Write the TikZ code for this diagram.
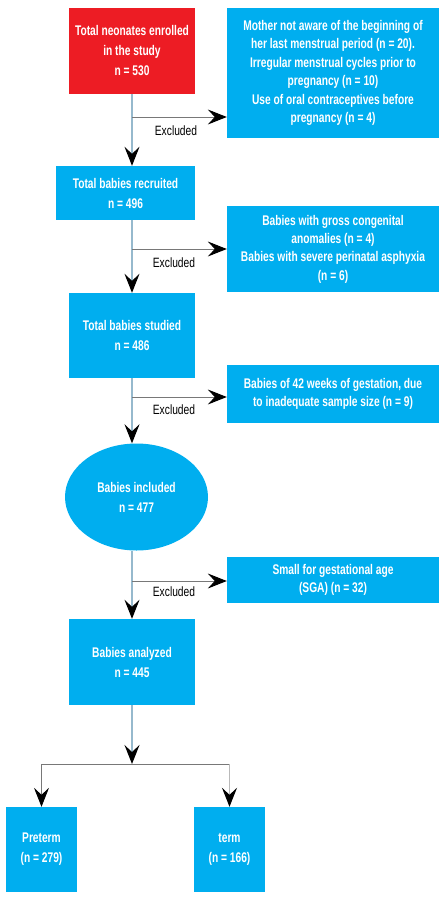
\documentclass[tikz,border=0pt]{standalone}
\usepackage{fontspec}
\setmainfont{Liberation Sans}[FakeStretch=0.76]
\newfontfamily\boxfont{Liberation Sans}[FakeStretch=0.73, UprightFont=* Bold]
\usetikzlibrary{arrows.meta,shapes.geometric}
\definecolor{boxblue}{RGB}{0,174,239}
\definecolor{boxred}{RGB}{237,28,36}
\definecolor{vlinec}{RGB}{150,185,205}
\definecolor{hlinec}{RGB}{120,120,120}
\tikzset{
  mainbox/.style={rectangle, fill=boxblue, text=white, align=center, inner sep=0pt,
    font=\boxfont\fontsize{14}{20}\selectfont},
  sidebox/.style={rectangle, fill=boxblue, text=white, align=center, inner sep=0pt,
    minimum width=212pt, font=\boxfont\fontsize{14}{18.4}\selectfont},
  arr/.style={-{Stealth[length=19pt,width=15pt,inset=7pt,color=black]}},
  vl/.style={draw=vlinec, line width=1.2pt},
  hl/.style={draw=hlinec, line width=0.9pt},
  exlabel/.style={font=\fontsize{13.5}{14}\selectfont, text=black, inner sep=0pt}
}
\begin{document}
\begin{tikzpicture}[x=1pt,y=-1pt]
\useasboundingbox (0,0) rectangle (443,902);
% main column
\node[mainbox, fill=boxred, minimum width=126pt, minimum height=86pt] (n1) at (132,51)
  {Total neonates enrolled\\in the study\\n = 530};
\node[mainbox, minimum width=139pt, minimum height=54pt] (n2) at (125.5,193)
  {Total babies recruited\\n = 496};
\node[mainbox, minimum width=126pt, minimum height=85pt] (n3) at (132,335.5)
  {Total babies studied\\n = 486};
\node[ellipse, fill=boxblue, text=white, align=center, inner sep=0pt,
  font=\boxfont\fontsize{14}{20}\selectfont, minimum width=143pt, minimum height=107pt] (n4) at (136.5,497)
  {Babies included\\n = 477};
\node[mainbox, minimum width=126pt, minimum height=86pt] (n5) at (132,662)
  {Babies analyzed\\n = 445};
\node[mainbox, minimum width=71pt, minimum height=85pt] (pre) at (41.5,849.5)
  {Preterm\\(n = 279)};
\node[mainbox, minimum width=71pt, minimum height=85pt] (term) at (229.5,849.5)
  {term\\(n = 166)};
% side boxes
\node[sidebox, minimum height=130pt] (s1) at (333,73)
  {Mother not aware of the beginning of\\her last menstrual period (n = 20).\\Irregular menstrual cycles prior to\\pregnancy (n = 10)\\Use of oral contraceptives before\\pregnancy (n = 4)};
\node[sidebox, minimum height=86pt] (s2) at (333,249)
  {Babies with gross congenital\\anomalies (n = 4)\\Babies with severe perinatal asphyxia\\(n = 6)};
\node[sidebox, minimum height=58pt] (s3) at (333,394)
  {Babies of 42 weeks of gestation, due\\to inadequate sample size (n = 9)};
\node[sidebox, minimum height=46pt] (s4) at (333,580)
  {Small for gestational age\\(SGA) (n = 32)};
% vertical connectors
\draw[vl, arr] (n1.south) -- (n1.south |- n2.north);
\draw[vl, arr] (n1.south |- n2.south) -- (n3.north);
\draw[vl, arr] (n3.south) -- (n3.south |- n4.north);
\draw[vl, arr] (n3.south |- n4.south) -- (n5.north);
% exclusion arrows
\coordinate (e1) at (132,117);
\coordinate (e2) at (132,249);
\coordinate (e3) at (132,397);
\coordinate (e4) at (132,581);
\draw[hl, arr] (e1) -- (e1 -| s1.west);
\draw[hl, arr] (e2) -- (e2 -| s2.west);
\draw[hl, arr] (e3) -- (e3 -| s3.west);
\draw[hl, arr] (e4) -- (e4 -| s4.west);
\node[exlabel] (x1) at (176,131) {Excluded};
\node[exlabel] (x2) at (174,263) {Excluded};
\node[exlabel] (x3) at (174,410) {Excluded};
\node[exlabel] (x4) at (174,592) {Excluded};
% split
\coordinate (sp) at (132,764);
\draw[vl, arr] (n5.south) -- (sp);
\draw[hl] (pre.north |- sp) -- (term.north |- sp);
\draw[hl, arr] (pre.north |- sp) -- (pre.north);
\draw[draw=gray!55, line width=1.2pt, arr] (term.north |- sp) -- (term.north);
\end{tikzpicture}
\end{document}
